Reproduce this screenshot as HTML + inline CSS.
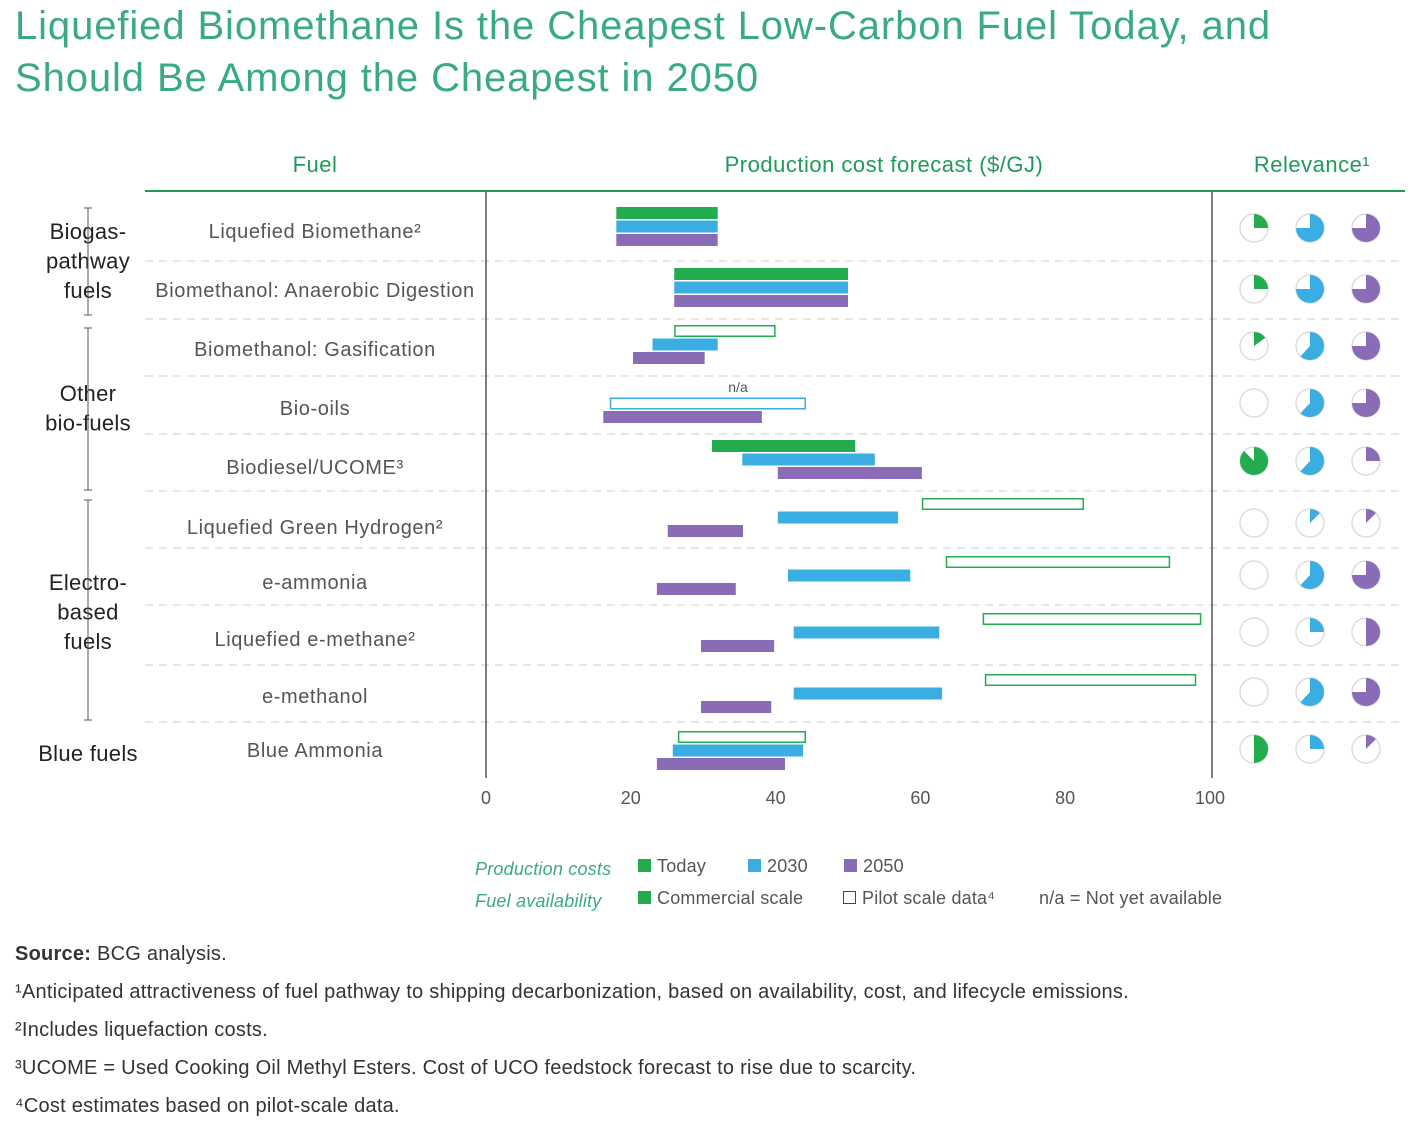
<!DOCTYPE html>
<html><head><meta charset="utf-8"><style>
body{margin:0;background:#fff;width:1426px;height:1135px;overflow:hidden;font-family:"Liberation Sans",sans-serif}
.t{position:absolute;white-space:nowrap}
.fn{font-size:20px;letter-spacing:0.25px;color:#333;left:15px}
</style></head><body>
<div class="t" style="left:15px;top:0px;font-size:40px;line-height:52px;color:#3aaa85;letter-spacing:0.9px">Liquefied Biomethane Is the Cheapest Low-Carbon Fuel Today, and<br>Should Be Among the Cheapest in 2050</div>
<svg id="chart" width="1426" height="1135" style="position:absolute;left:0;top:0" font-family="Liberation Sans, sans-serif"></svg>
<div class="t fn" style="top:943px"><b>Source:</b> BCG analysis.</div>
<div class="t fn" style="top:981px">¹Anticipated attractiveness of fuel pathway to shipping decarbonization, based on availability, cost, and lifecycle emissions.</div>
<div class="t fn" style="top:1019px">²Includes liquefaction costs.</div>
<div class="t fn" style="top:1057px">³UCOME = Used Cooking Oil Methyl Esters. Cost of UCO feedstock forecast to rise due to scarcity.</div>
<div class="t fn" style="top:1095px">⁴Cost estimates based on pilot-scale data.</div>
<script>
const fuels=["Liquefied Biomethane²","Biomethanol: Anaerobic Digestion","Biomethanol: Gasification","Bio-oils","Biodiesel/UCOME³","Liquefied Green Hydrogen²","e-ammonia","Liquefied e-methane²","e-methanol","Blue Ammonia"];
const todayStart=[18,26,26,null,31.2,60.2,63.5,68.6,68.9,26.5];
const todayEnd=[32,50,40,null,51,82.6,94.5,98.8,98.1,44.2];
const todayPilot=[false,false,true,false,false,true,true,true,true,true];
const y2030Start=[18,26,23,17.1,35.4,40.3,41.7,42.5,42.5,25.8];
const y2030End=[32,50,32,44.2,53.7,56.9,58.6,62.6,63,43.8];
const y2030Pilot=[false,false,false,true,false,false,false,false,false,false];
const y2050Start=[18,26,20.3,16.2,40.3,25.1,23.6,29.7,29.7,23.6];
const y2050End=[32,50,30.2,38.1,60.2,35.5,34.5,39.8,39.4,41.3];
const relToday=[0.25,0.25,0.15,0,0.875,0,0,0,0,0.5];
const rel2030=[0.75,0.75,0.62,0.62,0.62,0.125,0.62,0.25,0.62,0.25];
const rel2050=[0.75,0.75,0.75,0.75,0.25,0.125,0.75,0.5,0.75,0.125];
const ticks=[0,20,40,60,80,100];

const svg=document.getElementById('chart');
const NS='http://www.w3.org/2000/svg';
function mk(tag,a){const e=document.createElementNS(NS,tag);for(const k in a)e.setAttribute(k,a[k]);svg.appendChild(e);return e;}
const x=v=>486+v*7.24;
const rowTop=[207,268,325,384,440,498,556,613,674,731];
const labelY=[231,290,349,408,467,527,582,639,696,750];
const pieY=[228,289,346,403,461,523,575,632,692,749];
const sepY=[261,319,376,434,491,548,605,665,722];
const G='#22ac4e',B='#3aaee3',P='#8a6cb6',TG='#1f9a5a';

let e;
e=mk('text',{x:315,y:172,'font-size':22,fill:TG,'text-anchor':'middle','letter-spacing':0.5});e.textContent='Fuel';


e=mk('text',{x:884,y:172,'font-size':22,fill:TG,'text-anchor':'middle','letter-spacing':0.5});e.textContent='Production cost forecast ($/GJ)';


e=mk('text',{x:1312,y:172,'font-size':22,fill:TG,'text-anchor':'middle','letter-spacing':0.5});e.textContent='Relevance¹';


e=mk('line',{x1:145,x2:1405,y1:191,y2:191,stroke:TG,'stroke-width':2});


sepY.forEach(y=>{e=mk('line',{x1:145,x2:1405,y1:y,y2:y,stroke:'#ccc','stroke-dasharray':'8,6'});

});
[486,1212].forEach(xx=>{e=mk('line',{x1:xx,x2:xx,y1:192,y2:778,stroke:'#555','stroke-width':1.5});

});
ticks.forEach(t=>{e=mk('text',{x:x(t),y:804,'font-size':18,fill:'#555','text-anchor':'middle'});e.textContent=t;

});
fuels.forEach((f,i)=>{e=mk('text',{x:315,y:labelY[i]+7,'font-size':20,fill:'#555','text-anchor':'middle','letter-spacing':0.6});e.textContent=f;

});
const groups=[[["Biogas-","pathway","fuels"],231,208,315],[["Other","bio-fuels"],393,328,490],[["Electro-","based","fuels"],582,500,720],[["Blue fuels"],753,null,null]];
groups.forEach(g=>{g[0].forEach((l,j)=>{e=mk('text',{x:88,y:g[1]+8+j*29.5,'font-size':22,fill:'#222','text-anchor':'middle','letter-spacing':0.3});e.textContent=l;

});
if(g[2]!==null){e=mk('path',{d:`M84,${g[2]}h8M88,${g[2]}V${g[3]}M84,${g[3]}h8`,stroke:'#555',fill:'none'});

}});
function bar(s,en,y,col,pilot,name){if(s===null)return;
const r=pilot?mk('rect',{x:x(s)+0.75,y:y+0.75,width:x(en)-x(s)-1.5,height:10.5,fill:'#fff',stroke:col,'stroke-width':1.5}):mk('rect',{x:x(s),y:y,width:x(en)-x(s),height:12,fill:col});

}
fuels.forEach((f,i)=>{const t=rowTop[i];
bar(todayStart[i],todayEnd[i],t,G,todayPilot[i],'bar-today');
bar(y2030Start[i],y2030End[i],t+13.5,B,y2030Pilot[i],'bar-2030');
bar(y2050Start[i],y2050End[i],t+27,P,false,'bar-2050');
if(todayStart[i]===null){e=mk('text',{x:738,y:t+8,'font-size':14,fill:'#555','text-anchor':'middle'});e.textContent='n/a';

}});
function pie(cx,cy,fr,col,name){const r=14;
e=mk('circle',{cx,cy,r,fill:'#fff',stroke:'#ddd','stroke-width':1.5});


if(fr<=0)return;let p;
if(fr>=1)p=mk('circle',{cx,cy,r,fill:col});else{const a=fr*2*Math.PI;const ex=cx+r*Math.sin(a),ey=cy-r*Math.cos(a);
p=mk('path',{d:`M${cx},${cy}L${cx},${cy-r}A${r},${r} 0 ${fr>0.5?1:0} 1 ${ex},${ey}Z`,fill:col});}

}
fuels.forEach((f,i)=>{pie(1254,pieY[i],relToday[i],G,'relevance-today');pie(1310,pieY[i],rel2030[i],B,'relevance-2030');pie(1366,pieY[i],rel2050[i],P,'relevance-2050');});
function txt(s,xx,y,col,it,name){e=mk('text',{x:xx,y,'font-size':18,fill:col,'font-style':it?'italic':'normal','letter-spacing':0.2});e.textContent=s;

}
txt('Production costs',475,875,'#3aaa85',true,'legend-title-costs');
txt('Fuel availability',475,907,'#3aaa85',true,'legend-title-availability');
[[638,G,'Today'],[748,B,'2030'],[844,P,'2050']].forEach(l=>{e=mk('rect',{x:l[0],y:859,width:13,height:13,fill:l[1]});


txt(l[2],l[0]+19,872,'#555',false,'legend-entry');});
e=mk('rect',{x:638,y:891,width:13,height:13,fill:G});


txt('Commercial scale',657,904,'#555',false,'legend-entry');
e=mk('rect',{x:843.5,y:891.5,width:12,height:12,fill:'#fff',stroke:'#444'});


txt('Pilot scale data⁴',862,904,'#555',false,'legend-entry');
txt('n/a = Not yet available',1039,904,'#555',false,'legend-entry');
</script>
</body></html>
